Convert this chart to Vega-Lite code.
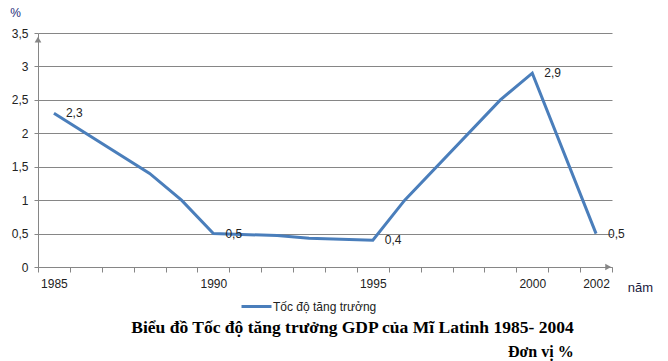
{
  "$schema": "https://vega.github.io/schema/vega-lite/v6.json",
  "autosize": "none",
  "width": 574,
  "height": 234,
  "padding": {"left": 38, "top": 33, "right": 56, "bottom": 94},
  "background": "white",
  "config": {
    "view": {"stroke": null},
    "font": "Liberation Sans"
  },
  "title": {
    "text": "Biểu đồ Tốc độ tăng trưởng GDP của Mĩ Latinh 1985- 2004",
    "subtitle": "Đơn vị %",
    "orient": "bottom",
    "anchor": "end",
    "dx": -79,
    "offset": 6,
    "font": "Liberation Serif",
    "fontSize": 17.5,
    "fontWeight": "bold",
    "color": "black",
    "subtitleFont": "Liberation Serif",
    "subtitleFontSize": 16,
    "subtitleFontWeight": "bold",
    "subtitleColor": "black",
    "subtitlePadding": 7
  },
  "data": {
    "values": [
      {"year": 1985, "value": 2.3, "label": "2,3"},
      {"year": 1988, "value": 1.4, "label": ""},
      {"year": 1989, "value": 1.0, "label": ""},
      {"year": 1990, "value": 0.5, "label": "0,5"},
      {"year": 1992, "value": 0.47, "label": ""},
      {"year": 1993, "value": 0.43, "label": ""},
      {"year": 1995, "value": 0.4, "label": "0,4"},
      {"year": 1996, "value": 1.0, "label": ""},
      {"year": 1999, "value": 2.5, "label": ""},
      {"year": 2000, "value": 2.9, "label": "2,9"},
      {"year": 2002, "value": 0.5, "label": "0,5"}
    ]
  },
  "encoding": {
    "x": {
      "field": "year",
      "type": "quantitative",
      "scale": {"domain": [1984.5, 2002.5], "nice": false, "zero": false},
      "axis": {
        "values": [1984.5, 1985.5, 1986.5, 1987.5, 1988.5, 1989.5, 1990.5, 1991.5, 1992.5, 1993.5, 1994.5, 1995.5, 1996.5, 1997.5, 1998.5, 1999.5, 2000.5, 2001.5, 2002.5],
        "labelExpr": "datum.value == 1985.5 ? '1985' : datum.value == 1990.5 ? '1990' : datum.value == 1995.5 ? '1995' : datum.value == 2000.5 ? '2000' : datum.value == 2002.5 ? '2002' : ''",
        "labelOffset": -16,
        "labelOverlap": false,
        "labelFlush": false,
        "labelBound": false,
        "labelPadding": 6,
        "labelFontSize": 12,
        "labelColor": "#222222",
        "grid": false,
        "domainColor": "#868686",
        "tickColor": "#868686",
        "tickSize": 5,
        "title": "năm",
        "titleAngle": 0,
        "titleX": 602,
        "titleY": 20,
        "titleAlign": "center",
        "titleBaseline": "middle",
        "titleFontSize": 13,
        "titleFontWeight": "normal",
        "titleColor": "#1a1a40"
      }
    },
    "y": {
      "field": "value",
      "type": "quantitative",
      "scale": {"domain": [0, 3.5], "nice": false},
      "axis": {
        "values": [0, 0.5, 1, 1.5, 2, 2.5, 3, 3.5],
        "labelExpr": "replace(toString(datum.value), '.', ',')",
        "labelOverlap": false,
        "labelFontSize": 12,
        "labelColor": "#222222",
        "labelPadding": 6,
        "grid": true,
        "gridColor": "#868686",
        "gridWidth": 1,
        "domainColor": "#868686",
        "tickColor": "#868686",
        "tickSize": 4,
        "title": "%",
        "titleAngle": 0,
        "titleX": -23,
        "titleY": -21,
        "titleAlign": "center",
        "titleBaseline": "middle",
        "titleFontSize": 12,
        "titleFontWeight": "normal",
        "titleColor": "#1f2f7a"
      }
    }
  },
  "layer": [
    {
      "mark": {"type": "line", "strokeWidth": 3, "strokeJoin": "miter"},
      "encoding": {
        "color": {
          "datum": "Tốc độ tăng trưởng",
          "type": "nominal",
          "scale": {"range": ["#4A7EBB"]},
          "legend": {
            "title": null,
            "orient": "none",
            "legendX": 202,
            "legendY": 257,
            "direction": "horizontal",
            "symbolType": "stroke",
            "symbolStrokeWidth": 3,
            "symbolSize": 900,
            "labelFontSize": 12,
            "labelColor": "#222222",
            "labelOffset": 0
          }
        }
      }
    },
    {
      "mark": {"type": "text", "align": "left", "baseline": "middle", "dx": 12, "fontSize": 12, "color": "#222222"},
      "encoding": {
        "text": {"field": "label"}
      }
    },
    {
      "data": {"values": [{"year": 1984.5, "value": 3.4}]},
      "mark": {"type": "point", "shape": "triangle-up", "filled": true, "color": "#868686", "size": 45, "opacity": 1},
      "encoding": {}
    },
    {
      "data": {"values": [{"year": 2002.38, "value": 0}]},
      "mark": {"type": "point", "shape": "triangle-right", "filled": true, "color": "#868686", "size": 45, "opacity": 1},
      "encoding": {}
    }
  ]
}
